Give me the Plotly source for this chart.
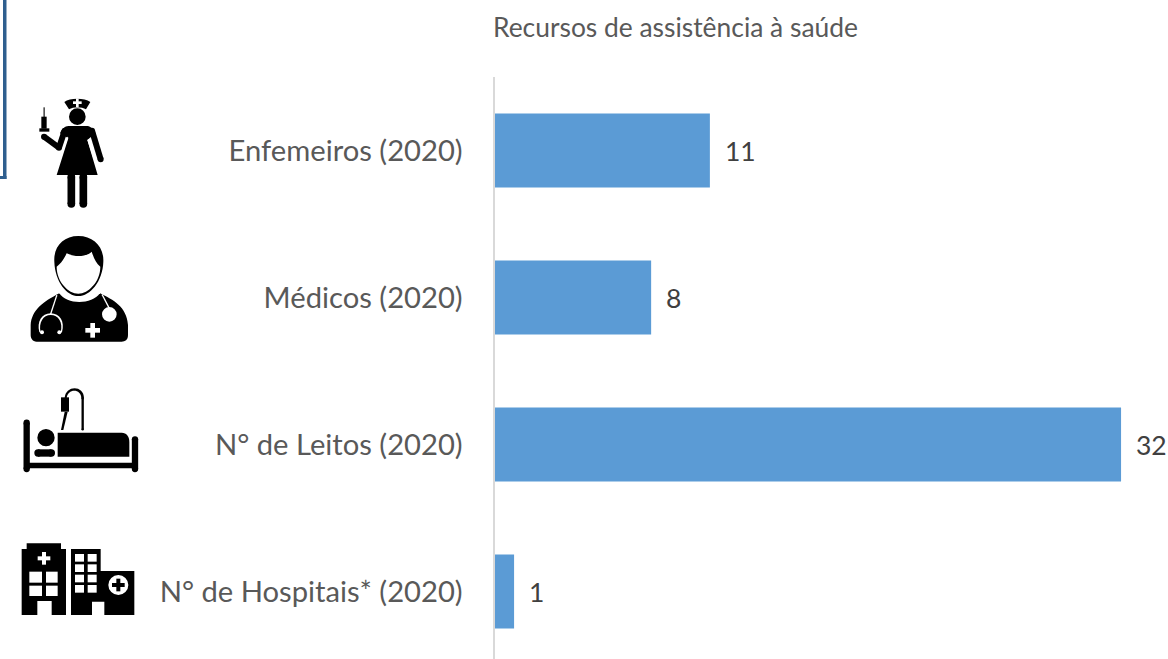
import plotly.graph_objects as go

categories = ["Enfemeiros (2020)", "Médicos (2020)", "N° de Leitos (2020)", "N° de Hospitais* (2020)"]
values = [11, 8, 32, 1]
title_text = "Recursos de assistência à saúde"

W, H = 1168, 659
FONT = "Lato, Carlito, Calibri, sans-serif"
shapes = []


def px(x):
    return x / W


def py(y):
    return 1 - y / H


class Icon:
    """Pictogram drawn in zoom-crop coordinates (3x) with a pixel offset."""

    def __init__(self, ox, oy, s=3.0):
        self.ox, self.oy, self.s = ox, oy, s

    def pt(self, x, y):
        return px(self.ox + x / self.s), py(self.oy + y / self.s)

    def path(self, cmds, color="black"):
        out = []
        for c in cmds:
            if isinstance(c, str):
                out.append(c)
            else:
                a, b = self.pt(*c)
                out.append(f"{a:.5f},{b:.5f}")
        shapes.append(dict(type="path", xref="paper", yref="paper", path=" ".join(out),
                           fillcolor=color, line=dict(width=0), layer="above"))

    def poly(self, pts, color="black"):
        cmds = []
        for i, p in enumerate(pts):
            cmds += ["M" if i == 0 else "L", p]
        cmds.append("Z")
        self.path(cmds, color)

    def rect(self, x0, y0, x1, y1, color="black"):
        self.poly([(x0, y0), (x1, y0), (x1, y1), (x0, y1)], color)

    def circle(self, cx, cy, r, color="black"):
        a, b = self.pt(cx - r, cy - r)
        c, d = self.pt(cx + r, cy + r)
        shapes.append(dict(type="circle", xref="paper", yref="paper", x0=a, y0=b, x1=c, y1=d,
                           fillcolor=color, line=dict(width=0), layer="above"))

    def stroke(self, pts, w, color="black"):
        for (x0, y0), (x1, y1) in zip(pts, pts[1:]):
            dx, dy = x1 - x0, y1 - y0
            n = (dx * dx + dy * dy) ** 0.5
            ux, uy = -dy / n * w / 2, dx / n * w / 2
            self.poly([(x0 + ux, y0 + uy), (x1 + ux, y1 + uy), (x1 - ux, y1 - uy), (x0 - ux, y0 - uy)], color)
        for (x, y) in pts:
            self.circle(x, y, w / 2, color)

    def plus(self, cx, cy, a, t, color="white"):
        self.rect(cx - a, cy - t, cx + a, cy + t, color)
        self.rect(cx - t, cy - a, cx + t, cy + a, color)


# Nurse
n = Icon(0, 0)
n.path(["M", (193, 306), "C", (210, 293), (253, 293), (271, 306), "L", (258, 328), "C", (245, 320), (220, 320), (207, 328), "Z"])
n.plus(232, 308, 13, 4)
n.circle(232, 350, 25)
n.path(["M", (205, 378), "L", (262, 378), "C", (275, 380), (282, 390), (286, 400), "L", (262, 420), "L", (293, 525),
        "L", (170, 525), "L", (205, 415), "L", (180, 400), "C", (185, 388), (195, 378), (205, 378), "Z"])
n.stroke([(276, 392), (302, 478)], 18)
n.poly([(262, 420), (268, 416), (286, 470), (280, 475)], "white")
n.stroke([(194, 392), (177, 443), (132, 410)], 18)
n.stroke([(203, 412), (190, 450)], 3, "white")
n.rect(130, 322, 135, 352, "#555555")
n.rect(124, 350, 140, 386)
n.rect(118, 385, 148, 395)
n.stroke([(214, 530), (214, 612)], 23)
n.stroke([(250, 530), (250, 612)], 23)

# Doctor
d = Icon(10, 225)
d.path(["M", (62, 300), "C", (65, 255), (100, 230), (148, 205), "L", (270, 205), "C", (310, 225), (350, 245), (354, 300),
        "L", (354, 330), "C", (354, 345), (345, 350), (335, 350), "L", (80, 350), "C", (68, 350), (62, 340), (62, 330), "Z"])
d.path(["M", (148, 205), "C", (170, 240), (245, 240), (270, 205), "L", (270, 190), "L", (148, 190), "Z"], "white")
d.path(["M", (205, 33), "C", (250, 33), (282, 65), (280, 110), "C", (278, 170), (240, 213), (205, 213),
        "C", (170, 213), (135, 170), (133, 110), "C", (130, 65), (160, 33), (205, 33), "Z"])
d.path(["M", (140, 125), "C", (155, 115), (165, 95), (170, 85), "C", (200, 100), (235, 92), (245, 80),
        "C", (252, 100), (258, 115), (271, 125), "C", (271, 170), (235, 206), (205, 206),
        "C", (175, 206), (140, 170), (140, 125), "Z"], "white")
d.stroke([(140, 212), (122, 267)], 4, "white")
d.path(["M", (88, 322), "C", (80, 290), (95, 265), (122, 265), "C", (150, 265), (165, 290), (156, 322),
        "L", (152, 322), "C", (160, 292), (145, 270), (122, 270), "C", (100, 270), (85, 292), (92, 322), "Z"], "white")
d.circle(96, 322, 6, "white")
d.circle(148, 322, 6, "white")
d.stroke([(277, 210), (298, 250)], 4, "white")
d.circle(298, 268, 22, "white")
d.plus(248, 316, 22, 7)

# Bed
b = Icon(10, 380)
b.stroke([(50, 128), (50, 267)], 19)
b.stroke([(375, 178), (375, 267)], 19)
b.rect(50, 248, 375, 265)
b.circle(108, 173, 26)
b.stroke([(84, 219), (124, 219)], 22)
b.path(["M", (143, 158), "L", (335, 158), "C", (350, 158), (358, 170), (358, 185), "L", (358, 230), "L", (143, 230), "Z"])
b.stroke([(218, 148), (218, 55)], 7)
b.path(["M", (214, 55), "C", (214, 25), (172, 25), (170, 55), "L", (164, 55), "C", (166, 15), (222, 15), (222, 55), "Z"])
b.rect(153, 52, 177, 95)
b.poly([(164, 95), (173, 95), (160, 150), (153, 150)])

# Hospitals
h = Icon(10, 535)
h.poly([(35, 42), (50, 42), (50, 25), (153, 25), (153, 42), (168, 42), (168, 240), (125, 240), (125, 198),
        (82, 198), (82, 240), (35, 240)])
h.plus(102, 70, 19, 6)
h.rect(58, 110, 96, 143, "white")
h.rect(108, 110, 143, 143, "white")
h.rect(58, 152, 96, 183, "white")
h.rect(108, 152, 143, 183, "white")
h.poly([(183, 42), (272, 42), (272, 108), (373, 108), (373, 240), (283, 240), (283, 200), (246, 200),
        (246, 240), (183, 240)])
for wy in (57, 88, 119, 150):
    h.rect(195, wy, 222, wy + 23, "white")
    h.rect(233, wy, 260, wy + 23, "white")
h.circle(325, 150, 30, "white")
h.plus(325, 150, 19, 6, "black")

# Blue box fragment at the top left corner
for x0, y0, x1, y1 in [(3, 0, 6.5, 179), (0, 176, 6.5, 179)]:
    shapes.append(dict(type="rect", xref="paper", yref="paper", x0=px(x0), y0=py(y0), x1=px(x1), y1=py(y1),
                       fillcolor="#2f5f8f", line=dict(width=0), layer="above"))

fig = go.Figure(go.Bar(
    y=categories, x=values, orientation="h", marker=dict(color="#5b9bd5", line=dict(width=0)),
    hoverinfo="skip",
))

annotations = [dict(x=v, y=c, xref="x", yref="y", text=str(v), showarrow=False, xanchor="left", xshift=13,
                    font=dict(family=FONT, size=26.5, color="#404040")) for c, v in zip(categories, values)]
annotations.append(dict(x=px(494), y=py(27), xref="paper", yref="paper", text=title_text, showarrow=False,
                        xanchor="left", yanchor="middle", xshift=-3,
                        font=dict(family=FONT, size=26.4, color="#595959")))

fig.update_layout(
    width=W, height=H, autosize=False, margin=dict(l=0, r=0, t=0, b=0, pad=0),
    paper_bgcolor="white", plot_bgcolor="white", showlegend=False, bargap=0.497,
    shapes=shapes, annotations=annotations,
    xaxis=dict(domain=[px(494.5), 1], range=[0, (W - 494.5) / 19.58], visible=False, fixedrange=True),
    yaxis=dict(domain=[0, py(77)], type="category", range=[3.459, -0.5], showgrid=False,
               showline=True, linecolor="#d9d9d9", linewidth=2, ticks="", ticklabelstandoff=24,
               tickfont=dict(family=FONT, size=29.2, color="#595959"), fixedrange=True),
)

fig.write_html("out.html", config=dict(displayModeBar=False),
               post_script="document.body.style.margin='0';document.body.style.overflow='hidden';")
